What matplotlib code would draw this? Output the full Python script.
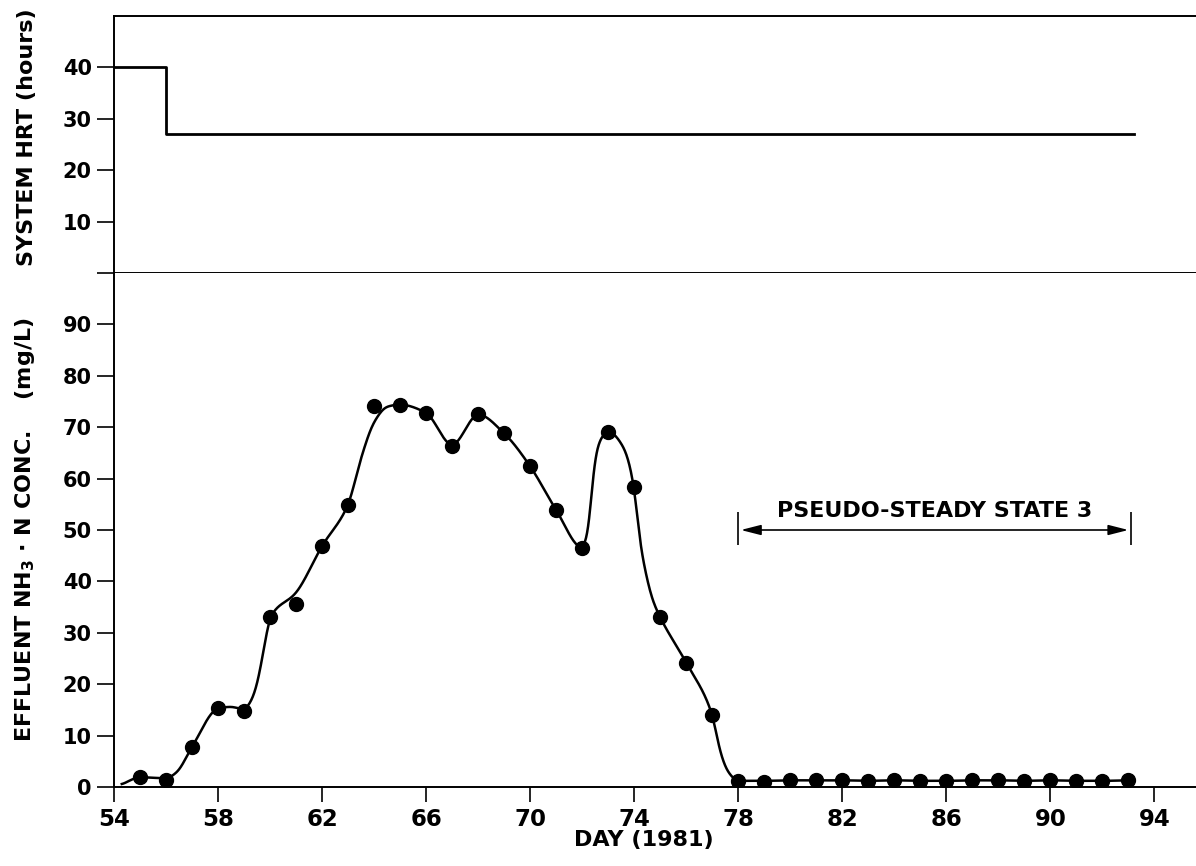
# Two-panel plot: system HRT and effluent NH3-N over time (1981)
import numpy as np
import matplotlib
matplotlib.use('Agg')
import matplotlib.pyplot as plt

# --- data ---
hrt_days = [54, 56, 93.2]
hrt_hours = [40, 27, 27]

days = list(range(55, 94))
nh3 = [1.9, 1.4, 7.8, 15.3, 14.8, 33.0, 35.6, 46.9, 54.9, 74.2,
       74.4, 72.8, 66.3, 72.5, 68.8, 62.4, 53.9, 46.5, 69.0, 58.3,
       33.0, 24.2, 14.1, 1.2, 1.0, 1.3, 1.3, 1.3, 1.2, 1.3,
       1.1, 1.2, 1.3, 1.3, 1.2, 1.3, 1.2, 1.2, 1.3]

# hand-drawn smooth curve (knots)
curve_days = [54.3, 55, 56, 56.4, 57, 58, 58.5, 59, 59.3, 59.5, 59.75, 60,
              61, 62, 63, 63.5, 64, 64.5, 65, 66, 67, 68, 69, 70, 71, 72,
              72.25, 72.4, 72.6, 73, 73.6, 74, 74.2, 74.45, 74.7, 75, 76,
              77, 77.3, 77.6, 78, 79, 80, 81, 82, 83, 84, 85, 86, 87, 88,
              89, 90, 91, 92, 93]
curve_vals = [0.5, 1.9, 1.7, 2.8, 7.8, 15.3, 15.6, 15.1, 17.0, 20.0, 26.5, 33.0,
              37.8, 46.9, 54.9, 64.0, 71.0, 74.0, 74.4, 72.8, 66.5, 72.5, 68.8,
              62.4, 53.9, 46.5, 50.0, 60.0, 66.5, 69.2, 66.0, 58.3, 48.5, 41.5,
              36.5, 33.0, 24.2, 14.1, 7.0, 3.0, 1.2, 1.2, 1.3, 1.3, 1.3, 1.2,
              1.3, 1.2, 1.2, 1.3, 1.3, 1.2, 1.3, 1.2, 1.2, 1.3]

pss_start, pss_end, pss_level = 78, 93.1, 50


def pchip(x, y, xs):
    x = np.asarray(x, float)
    y = np.asarray(y, float)
    h = np.diff(x)
    d = np.diff(y) / h
    m = np.zeros_like(y)
    for k in range(1, len(x) - 1):
        if d[k - 1] * d[k] > 0:
            w1 = 2 * h[k] + h[k - 1]
            w2 = h[k] + 2 * h[k - 1]
            m[k] = (w1 + w2) / (w1 / d[k - 1] + w2 / d[k])
    m[0] = d[0]
    m[-1] = d[-1]
    i = np.clip(np.searchsorted(x, xs) - 1, 0, len(h) - 1)
    t = (xs - x[i]) / h[i]
    return ((2 * t**3 - 3 * t**2 + 1) * y[i] + (t**3 - 2 * t**2 + t) * h[i] * m[i]
            + (-2 * t**3 + 3 * t**2) * y[i + 1] + (t**3 - t**2) * h[i] * m[i + 1])


def soften(v, n=5):
    # light smoothing to take the corners off the spline, like a pen line
    k = np.exp(-0.5 * (np.arange(-3 * n, 3 * n + 1) / n) ** 2)
    k /= k.sum()
    p = np.pad(v, 3 * n, mode='edge')
    return np.convolve(p, k, mode='valid')


plt.rcParams['font.family'] = ['DejaVu Sans']
plt.rcParams['font.weight'] = 'bold'
plt.rcParams['axes.linewidth'] = 1.4

fig = plt.figure(figsize=(11.96, 8.66), dpi=100)
left = 114 / 1196
ax1 = fig.add_axes([left, 1 - 273 / 866, 1 - left, (273 - 16) / 866])
ax2 = fig.add_axes([left, 1 - 787 / 866, 1 - left, (787 - 273) / 866])

# top panel: HRT
ax1.plot(hrt_days, hrt_hours, 'k', lw=2, drawstyle='steps-post')
ax1.set_xlim(54, 95.6)
ax1.set_ylim(0, 50)
ax1.set_yticks([0, 10, 20, 30, 40])
ax1.set_yticklabels(['', '10', '20', '30', '40'])
ax1.set_xticks([])
ax1.spines['right'].set_visible(False)
ax1.set_ylabel('SYSTEM HRT (hours)', fontsize=16, fontweight='bold')
ax1.yaxis.set_label_coords(-0.071, 0.53)

# bottom panel: NH3-N
xs = np.linspace(curve_days[0], curve_days[-1], 2000)
ax2.plot(xs, soften(pchip(curve_days, curve_vals, xs)), 'k', lw=1.8)
ax2.plot(days, nh3, 'o', color='k', ms=10, ls='none')
ax2.set_xlim(54, 95.6)
ax2.set_ylim(0, 100)
ax2.set_yticks(range(0, 100, 10))
ax2.set_xticks(range(54, 95, 4))
ax2.spines['right'].set_visible(False)
ax2.spines['top'].set_visible(False)
ax2.set_xlabel('DAY (1981)', fontsize=16, fontweight='bold')
ax2.xaxis.set_label_coords(0.49, -0.084)
ax2.set_ylabel(r'EFFLUENT NH$_\mathbf{3}$ $\cdot$ N CONC.    (mg/L)', fontsize=16,
               fontweight='bold')
ax2.yaxis.set_label_coords(-0.071, 0.5)

for ax in (ax1, ax2):
    ax.tick_params(axis='y', direction='out', length=12, width=1.2, labelsize=15, pad=4)
    ax.tick_params(axis='x', direction='out', length=11, width=1.2, labelsize=16.5, pad=4)

# pseudo-steady state marker
ax2.annotate('', xy=(pss_start + 0.1, pss_level), xytext=(pss_end - 0.1, pss_level),
             arrowprops=dict(arrowstyle='<|-|>,head_length=0.55,head_width=0.14',
                             color='k', lw=1.2, mutation_scale=22,
                             shrinkA=0, shrinkB=0))
ax2.vlines([pss_start, pss_end], pss_level - 3, pss_level + 3.5, color='k', lw=1.2)
ax2.text((pss_start + pss_end) / 2, pss_level + 1.8, 'PSEUDO-STEADY STATE 3',
         ha='center', va='bottom', fontsize=16, fontweight='bold')

fig.savefig('out.png', dpi=100)
